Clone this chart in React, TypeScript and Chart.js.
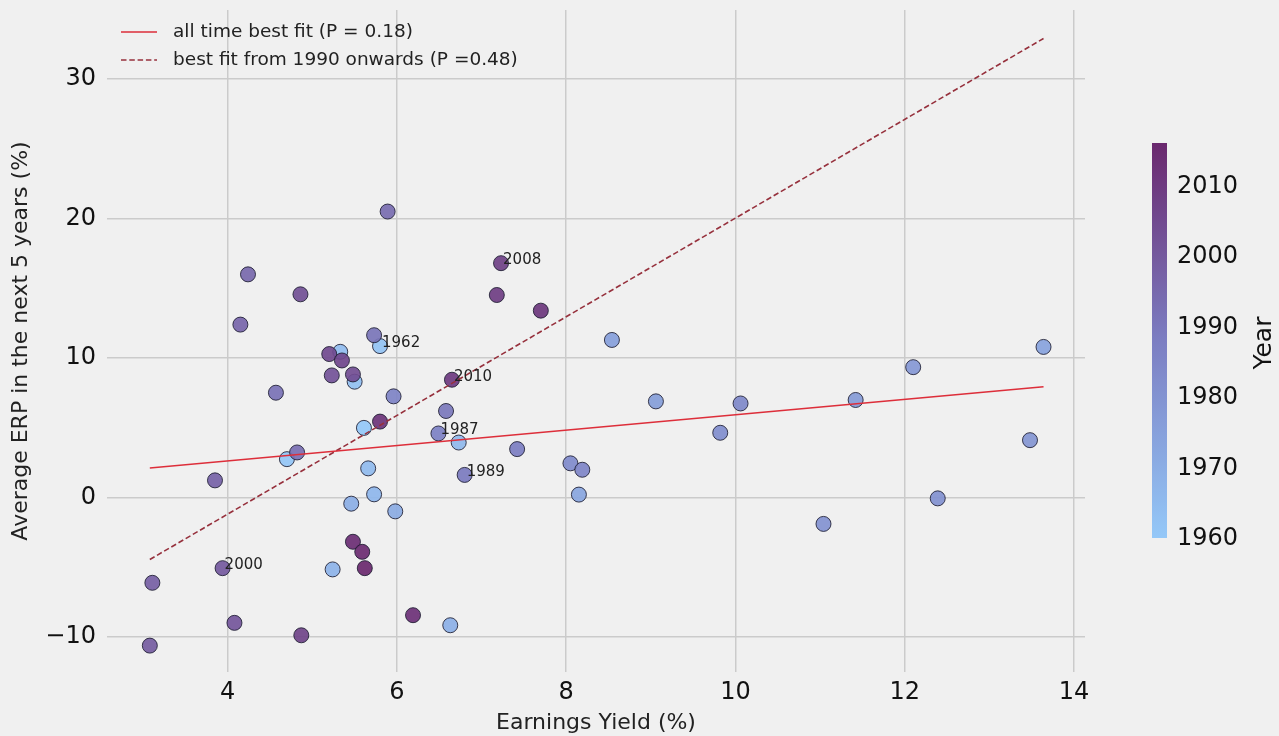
import React, { useEffect, useRef } from "react";
import { Chart, registerables } from "chart.js";

Chart.register(...registerables);

// Year of each observation, its earnings yield (%) and the average ERP over the following 5 years (%)
const years = [
  1960, 1961, 1962, 1963, 1964, 1965, 1966, 1967, 1968, 1969,
  1970, 1971, 1973, 1974, 1975, 1976, 1977, 1978, 1979,
  1980, 1981, 1982, 1983, 1984, 1985, 1986, 1987, 1988, 1989,
  1990, 1991, 1992, 1993, 1994, 1995, 1996, 1997, 1998, 1999,
  2000, 2001, 2002, 2003, 2004, 2005, 2006, 2007, 2008, 2009,
  2010, 2011, 2012, 2013, 2014, 2015, 2016,
];
const earningsYield = [
  5.61, 4.7, 5.8, 5.5, 5.33, 5.66, 6.73, 5.73, 5.24, 6.63,
  5.46, 5.98, 8.15, 13.64, 8.54, 9.06, 11.42, 12.1, 13.48,
  11.04, 12.39, 9.82, 8.05, 10.06, 8.19, 5.96, 6.49, 7.42, 6.8,
  6.58, 5.73, 4.57, 4.82, 5.89, 4.24, 4.15, 3.85, 3.11, 3.08,
  3.94, 4.08, 5.23, 4.86, 5.48, 5.2, 5.35, 4.87, 7.23, 7.18,
  6.65, 7.7, 5.8, 6.19, 5.48, 5.59, 5.62,
];
const erpNext5 = [
  5.0, 2.76, 10.86, 8.31, 10.45, 2.1, 3.95, 0.24, -5.14, -9.14,
  -0.43, -0.98, 0.22, 10.8, 11.3, 6.9, 7.0, 9.35, 4.12,
  -1.88, -0.05, 4.65, 2.46, 6.75, 2.0, 7.26, 4.6, 3.48, 1.63,
  6.21, 11.64, 7.52, 3.24, 20.5, 16.0, 12.4, 1.24, -6.1, -10.6,
  -5.05, -8.97, 8.76, 14.57, 8.83, 10.29, 9.83, -9.86, 16.8, 14.52,
  8.45, 13.4, 5.45, -8.42, -3.16, -3.88, -5.05,
];

// Years written next to their points
const labelledYears = [1962, 1987, 1989, 2000, 2008, 2010];

// Regression lines, evaluated at the smallest and largest earnings yield
const fitX = [3.08, 13.64];
const fitAllTime = [2.13, 7.95];
const fitFrom1990 = [-4.43, 32.9];
const fitLabels = ["all time best fit (P = 0.18)", "best fit from 1990 onwards (P =0.48)"];

// Axis ticks
const xTicks = [4, 6, 8, 10, 12, 14];
const yTicks = [-10, 0, 10, 20, 30];
const yearTicks = [1960, 1970, 1980, 1990, 2000, 2010];
const yearMin = 1960;
const yearMax = 2016;

const FONT = '"DejaVu Sans", "Liberation Sans", sans-serif';

// Light blue -> purple colour scale used for the year
const yearStops: [number, number, number][] = [
  [148, 200, 248],
  [124, 126, 194],
  [106, 40, 110],
];

function yearRGB(year: number): [number, number, number] {
  const t = Math.min(1, Math.max(0, (year - yearMin) / (yearMax - yearMin)));
  const seg = t < 0.5 ? 0 : 1;
  const f = seg === 0 ? t / 0.5 : (t - 0.5) / 0.5;
  const a = yearStops[seg];
  const b = yearStops[seg + 1];
  return [0, 1, 2].map((k) => Math.round(a[k] + (b[k] - a[k]) * f)) as [number, number, number];
}

function yearColor(year: number, alpha = 1): string {
  const [r, g, b] = yearRGB(year);
  return `rgba(${r},${g},${b},${alpha})`;
}

function fmtTick(v: number): string {
  return v < 0 ? "\u2212" + Math.abs(v) : String(v);
}

// Scales reserve half a label for their end ticks; the plot area here is fixed instead
function noEndPadding(s: any) {
  s.paddingTop = 0;
  s.paddingBottom = 0;
  s.paddingLeft = 0;
  s.paddingRight = 0;
}

const yearNotes = {
  id: "yearNotes",
  afterDatasetsDraw(chart: any) {
    const { ctx, scales } = chart;
    ctx.save();
    ctx.font = `15px ${FONT}`;
    ctx.fillStyle = "#222";
    ctx.textAlign = "left";
    ctx.textBaseline = "alphabetic";
    labelledYears.forEach((yr) => {
      const i = years.indexOf(yr);
      if (i < 0) return;
      const px = scales.x.getPixelForValue(earningsYield[i]);
      const py = scales.y.getPixelForValue(erpNext5[i]);
      ctx.fillText(String(yr), px + 2, py + 1);
    });
    ctx.restore();
  },
};

const fitLegend = {
  id: "fitLegend",
  afterDraw(chart: any) {
    const { ctx } = chart;
    const lines = chart.data.datasets.filter((d: any) => d.type === "line");
    lines.forEach((d: any, k: number) => {
      const yy = 32 + k * 28;
      ctx.save();
      ctx.strokeStyle = d.borderColor;
      ctx.lineWidth = d.borderWidth;
      ctx.setLineDash(d.borderDash || []);
      ctx.beginPath();
      ctx.moveTo(121, yy);
      ctx.lineTo(157, yy);
      ctx.stroke();
      ctx.setLineDash([]);
      ctx.font = `18.5px ${FONT}`;
      ctx.fillStyle = "#222";
      ctx.textAlign = "left";
      ctx.textBaseline = "middle";
      ctx.fillText(d.label, 173, yy);
      ctx.restore();
    });
  },
};

const yearColorbar = {
  id: "yearColorbar",
  afterDraw(chart: any) {
    const { ctx } = chart;
    const left = 1152;
    const width = 15;
    const top = 143;
    const bottom = 538;
    ctx.save();
    const grad = ctx.createLinearGradient(0, bottom, 0, top);
    for (let s = 0; s <= 20; s++) {
      grad.addColorStop(s / 20, yearColor(yearMin + ((yearMax - yearMin) * s) / 20));
    }
    ctx.fillStyle = grad;
    ctx.fillRect(left, top, width, bottom - top);
    ctx.font = `24px ${FONT}`;
    ctx.fillStyle = "#111";
    ctx.textAlign = "left";
    ctx.textBaseline = "middle";
    yearTicks.forEach((yr) => {
      const py = bottom - ((yr - yearMin) / (yearMax - yearMin)) * (bottom - top);
      ctx.fillText(String(yr), 1177, py + 1);
    });
    ctx.translate(1264, 343);
    ctx.rotate(-Math.PI / 2);
    ctx.font = `25px ${FONT}`;
    ctx.textAlign = "center";
    ctx.fillText("Year", 0, 0);
    ctx.restore();
  },
};

export default function App() {
  const canvasRef = useRef<HTMLCanvasElement | null>(null);

  useEffect(() => {
    const canvas = canvasRef.current;
    if (!canvas) return;

    const points = years.map((_, i) => ({ x: earningsYield[i], y: erpNext5[i] }));

    const chart = new Chart(canvas, {
      type: "scatter",
      data: {
        datasets: [
          {
            type: "line",
            label: fitLabels[0],
            data: fitX.map((x, i) => ({ x, y: fitAllTime[i] })),
            borderColor: "#dd2e3a",
            borderWidth: 1.6,
            pointRadius: 0,
            showLine: true,
            fill: false,
            tension: 0,
            order: 0,
          },
          {
            type: "line",
            label: fitLabels[1],
            data: fitX.map((x, i) => ({ x, y: fitFrom1990[i] })),
            borderColor: "#96303c",
            borderWidth: 1.6,
            borderDash: [5.5, 2.8],
            pointRadius: 0,
            showLine: true,
            fill: false,
            tension: 0,
            order: 0,
          },
          {
            type: "scatter",
            label: "years",
            data: points,
            backgroundColor: years.map((yr) => yearColor(yr, 0.92)),
            borderColor: "rgba(28,28,48,0.85)",
            borderWidth: 1,
            pointRadius: 7.5,
            pointHoverRadius: 7.5,
            order: 1,
          },
        ],
      } as any,
      options: {
        animation: false,
        responsive: false,
        devicePixelRatio: 1,
        events: [],
        layout: { padding: { left: 0, right: 194, top: 10, bottom: 0 } },
        plugins: {
          legend: { display: false },
          tooltip: { enabled: false },
        },
        scales: {
          x: {
            type: "linear",
            min: 2.574,
            max: 14.13,
            afterBuildTicks: (s: any) => {
              s.ticks = xTicks.map((v) => ({ value: v }));
            },
            afterFit: (s: any) => {
              s.height = 64;
              noEndPadding(s);
            },
            grid: { color: "#cbcbcb", lineWidth: 1.5, drawTicks: false },
            border: { display: false },
            ticks: {
              autoSkip: false,
              maxRotation: 0,
              padding: 6,
              color: "#111",
              font: { family: FONT, size: 24 },
              callback: (v: any) => fmtTick(Number(v)),
            },
            title: {
              display: true,
              text: "Earnings Yield (%)",
              color: "#222",
              font: { family: FONT, size: 22 },
              padding: { top: 0, bottom: 0 },
            },
          },
          y: {
            type: "linear",
            min: -12.49,
            max: 34.94,
            afterBuildTicks: (s: any) => {
              s.ticks = yTicks.map((v) => ({ value: v }));
            },
            afterFit: (s: any) => {
              s.width = 107;
              noEndPadding(s);
            },
            grid: { color: "#cbcbcb", lineWidth: 1.5, drawTicks: false },
            border: { display: false },
            ticks: {
              autoSkip: false,
              padding: 11,
              color: "#111",
              font: { family: FONT, size: 24 },
              callback: (v: any) => fmtTick(Number(v)),
            },
            title: {
              display: true,
              text: "Average ERP in the next 5 years (%)",
              color: "#222",
              font: { family: FONT, size: 22 },
              padding: { top: 8.5, bottom: 0 },
            },
          },
        },
      } as any,
      plugins: [yearNotes, fitLegend, yearColorbar],
    });

    return () => chart.destroy();
  }, []);

  return (
    <div
      style={{
        position: "fixed",
        left: 0,
        top: 0,
        width: 1279,
        height: 736,
        background: "#f0f0f0",
      }}
    >
      <canvas ref={canvasRef} width={1279} height={736} style={{ display: "block" }} />
    </div>
  );
}
